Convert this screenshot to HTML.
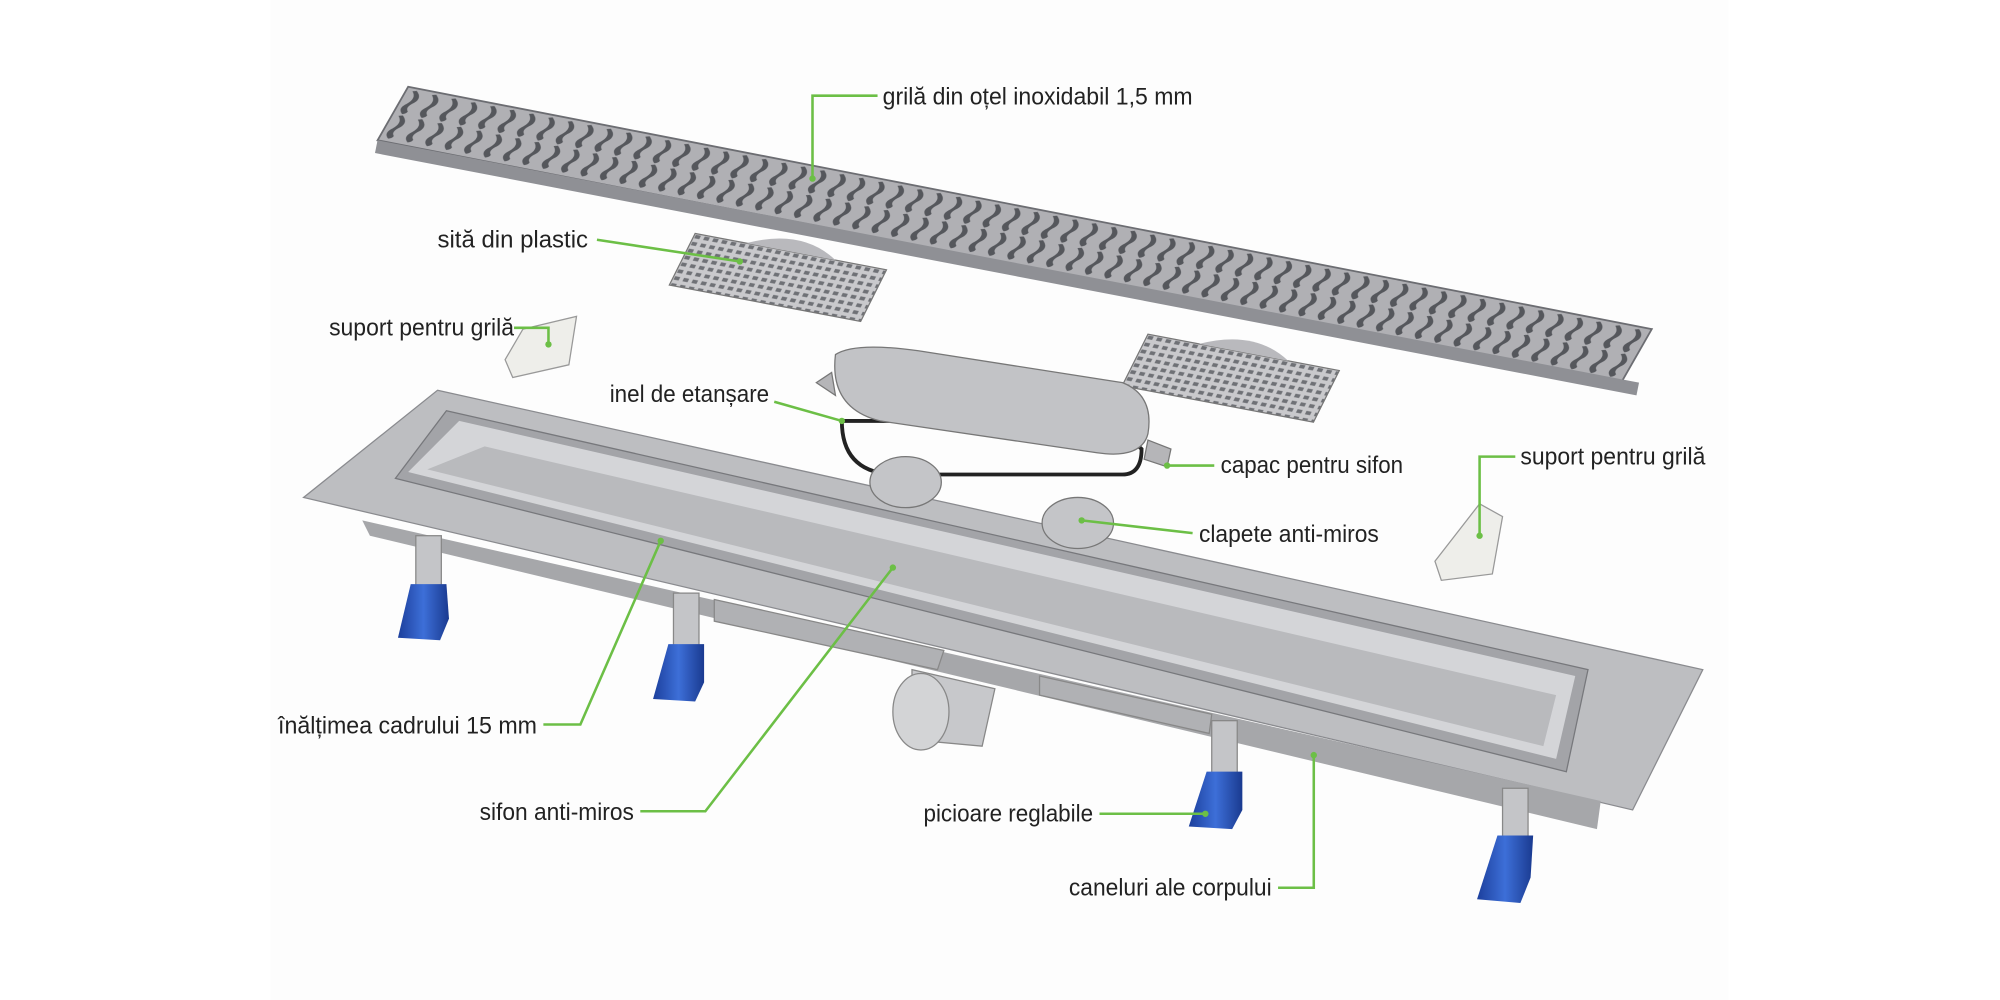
<!DOCTYPE html>
<html><head><meta charset="utf-8"><style>
html,body{margin:0;padding:0;background:#fff;width:2000px;height:1000px;overflow:hidden}
svg{display:block}
text{font-family:"Liberation Sans Narrow","Liberation Sans",sans-serif;font-size:19px;fill:#222}
</style></head><body>
<svg width="2000" height="1000" viewBox="0 0 1568 784" xmlns="http://www.w3.org/2000/svg">
<defs>
<pattern id="slots" patternUnits="userSpaceOnUse" width="15.6" height="48">
<rect width="15.6" height="48" fill="#b0b0b4"/>
<path d="M5 3 q6 5 1 11 q-5 5 1 9 q3 -1 3 -3 q-4 -3 1 -8 q4 -5 -3 -10z" fill="#55575c"/>
<path d="M5 25 q6 5 1 11 q-5 5 1 9 q3 -1 3 -3 q-4 -3 1 -8 q4 -5 -3 -10z" fill="#55575c"/>
</pattern>
<pattern id="mesh" patternUnits="userSpaceOnUse" width="7" height="6">
<rect width="7" height="6" fill="#c9c9cc"/><rect x="1" y="1" width="4" height="3" fill="#6f7176"/>
</pattern>
<linearGradient id="blue" x1="0" x2="1"><stop offset="0" stop-color="#1c3f9c"/><stop offset=".5" stop-color="#3d6fd8"/><stop offset="1" stop-color="#1a3a90"/></linearGradient>
</defs>
<rect x="212" y="0" width="1143" height="784" fill="#fdfdfd"/>

<g transform="matrix(0.975,0.19,-0.5,0.875,320,68)">
<rect x="0" y="0" width="1000" height="48" fill="url(#slots)" stroke="#6c6d72" stroke-width="1.5"/>
</g>
<polygon points="296,110 1285,300 1283,310 294,120" fill="#8f9095"/>

<g transform="matrix(1,0.19,-0.45,0.9,545,183)">
<rect x="0" y="0" width="150" height="45" fill="url(#mesh)" stroke="#777" />
<path d="M40 0 Q75 -20 110 0z" fill="#b9b9bd"/>
</g>
<g transform="matrix(1,0.19,-0.45,0.9,900,262)">
<rect x="0" y="0" width="150" height="45" fill="url(#mesh)" stroke="#777" />
<path d="M40 0 Q75 -20 110 0z" fill="#b9b9bd"/>
</g>

<polygon points="410,258 452,248 446,286 402,296 396,282" fill="#eeeeea" stroke="#999"/>
<polygon points="1160,395 1178,405 1170,450 1130,455 1125,440" fill="#eeeeea" stroke="#999"/>

<path d="M660 330 Q660 370 700 372 L880 372 Q895 372 895 352 L870 330z" fill="none" stroke="#222" stroke-width="3"/>
<path d="M655 278 Q670 268 720 275 L880 300 Q905 310 900 340 Q895 360 860 355 L690 330 Q650 320 655 278z" fill="#c2c3c6" stroke="#777"/>
<path d="M900 345 L918 352 L915 366 L897 360z" fill="#b5b5b8" stroke="#777"/>
<path d="M640 300 L652 292 L655 310z" fill="#b5b5b8" stroke="#777"/>

<polygon points="343,306 1335,525 1280,635 238,390" fill="#bdbec1" stroke="#8a8b8f"/>
<polygon points="284,408 1255,628 1252,650 290,420" fill="#a6a7aa"/>
<polygon points="350,322 1245,525 1228,605 310,375" fill="#a3a4a8" stroke="#77787c"/>
<polygon points="360,330 1235,530 1220,595 320,370" fill="#d4d5d8"/>
<polygon points="380,350 1220,545 1210,585 335,368" fill="#b9babd"/>
<polygon points="560,470 740,510 735,525 560,487" fill="#b0b1b4" stroke="#888"/>
<polygon points="815,530 950,560 948,575 815,545" fill="#b0b1b4" stroke="#888"/>

<path d="M715 525 L780 540 L770 585 L715 580z" fill="#c7c8cb" stroke="#888"/>
<ellipse cx="722" cy="558" rx="22" ry="30" fill="#d3d4d6" stroke="#888"/>

<ellipse cx="710" cy="378" rx="28" ry="20" fill="#c4c5c8" stroke="#777"/>
<ellipse cx="845" cy="410" rx="28" ry="20" fill="#c4c5c8" stroke="#777"/>

<g>
<rect x="326" y="420" width="20" height="40" fill="#c4c5c8" stroke="#888"/>
<path d="M322 458 L350 458 L352 485 L345 502 L312 500 Z" fill="url(#blue)"/>
<rect x="528" y="465" width="20" height="45" fill="#c4c5c8" stroke="#888"/>
<path d="M524 505 L552 505 L552 535 L545 550 L512 548 Z" fill="url(#blue)"/>
<rect x="950" y="565" width="20" height="45" fill="#c4c5c8" stroke="#888"/>
<path d="M946 605 L974 605 L974 635 L966 650 L932 648 Z" fill="url(#blue)"/>
<rect x="1178" y="618" width="20" height="40" fill="#c4c5c8" stroke="#888"/>
<path d="M1174 655 L1202 655 L1200 688 L1192 708 L1158 705 Z" fill="url(#blue)"/>
</g>

<g stroke="#6cbf46" stroke-width="2" fill="none">
<polyline points="688,75 637,75 637,140"/>
<line x1="468" y1="188" x2="580" y2="205"/>
<polyline points="403,257 430,257 430,270"/>
<line x1="607" y1="315" x2="660" y2="330"/>
<line x1="952" y1="365" x2="915" y2="365"/>
<polyline points="1188,358 1160,358 1160,420"/>
<line x1="935" y1="418" x2="848" y2="408"/>
<polyline points="426,568 455,568 518,424"/>
<polyline points="502,636 553,636 700,445"/>
<line x1="862" y1="638" x2="945" y2="638"/>
<polyline points="1002,696 1030,696 1030,592"/>
</g>
<g fill="#6cbf46">
<circle cx="637" cy="140" r="2.5"/><circle cx="580" cy="205" r="2.5"/><circle cx="430" cy="270" r="2.5"/>
<circle cx="660" cy="330" r="2.5"/><circle cx="915" cy="365" r="2.5"/><circle cx="1160" cy="420" r="2.5"/>
<circle cx="848" cy="408" r="2.5"/><circle cx="518" cy="424" r="2.5"/><circle cx="700" cy="445" r="2.5"/>
<circle cx="945" cy="638" r="2.5"/><circle cx="1030" cy="592" r="2.5"/>
</g>

<text x="692" y="82" textLength="243" lengthAdjust="spacingAndGlyphs">grilă din oțel inoxidabil 1,5 mm</text>
<text x="343" y="194" textLength="118" lengthAdjust="spacingAndGlyphs">sită din plastic</text>
<text x="258" y="263" textLength="145" lengthAdjust="spacingAndGlyphs">suport pentru grilă</text>
<text x="478" y="315" textLength="125" lengthAdjust="spacingAndGlyphs">inel de etanșare</text>
<text x="957" y="371" textLength="143" lengthAdjust="spacingAndGlyphs">capac pentru sifon</text>
<text x="1192" y="364" textLength="145" lengthAdjust="spacingAndGlyphs">suport pentru grilă</text>
<text x="940" y="425" textLength="141" lengthAdjust="spacingAndGlyphs">clapete anti-miros</text>
<text x="218" y="575" textLength="203" lengthAdjust="spacingAndGlyphs">înălțimea cadrului 15 mm</text>
<text x="376" y="643" textLength="121" lengthAdjust="spacingAndGlyphs">sifon anti-miros</text>
<text x="724" y="644" textLength="133" lengthAdjust="spacingAndGlyphs">picioare reglabile</text>
<text x="838" y="702" textLength="159" lengthAdjust="spacingAndGlyphs">caneluri ale corpului</text>
</svg>
</body></html>
